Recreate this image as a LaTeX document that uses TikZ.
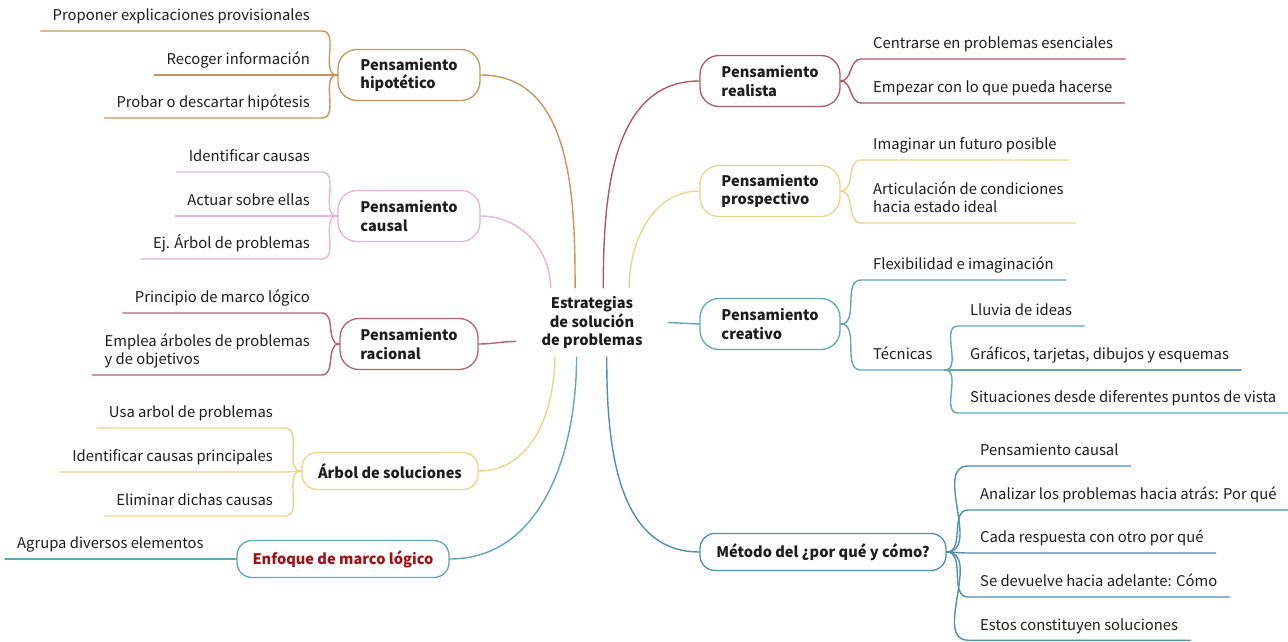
\documentclass[tikz,border=0pt]{standalone}
\usepackage{fontspec}
\setmainfont{Noto Sans CJK SC}
\definecolor{hipc}{RGB}{198,150,96}
\definecolor{causc}{RGB}{228,182,214}
\definecolor{racc}{RGB}{178,98,112}
\definecolor{arbc}{RGB}{233,213,140}
\definecolor{enfc}{RGB}{96,166,184}
\definecolor{realc}{RGB}{170,90,104}
\definecolor{prosc}{RGB}{233,214,142}
\definecolor{creac}{RGB}{98,166,184}
\definecolor{metc}{RGB}{80,144,170}
\definecolor{redtxt}{RGB}{160,16,22}
\definecolor{ink}{RGB}{28,28,28}
\newcommand\leaffont{\fontsize{14.8pt}{18.5pt}\selectfont}
\newcommand\topicfont{\fontsize{14.6pt}{18.5pt}\selectfont\bfseries}
\tikzset{
  wire/.style={line width=1.4pt, line cap=round},
  topic/.style={draw, fill=white, line width=1.3pt, rounded corners=19pt,
    minimum height=51pt, align=left, font=\topicfont, text=ink, inner sep=0pt},
  flat/.style={topic, rounded corners=15pt, minimum height=37pt},
  leaf/.style={font=\leaffont, text=ink, align=left, inner xsep=12pt,
    inner ysep=6pt, text depth=4pt},
  leafL/.style={leaf, anchor=south east},
  leafR/.style={leaf, anchor=south west},
}
\begin{document}
\begin{tikzpicture}[x=1pt,y=1pt]
\useasboundingbox (0,0) rectangle (1288,641);

% central topic
\node[align=center, font=\topicfont, text=ink, minimum width=152pt,
  minimum height=69pt, inner sep=0pt] (c) at (592,318.5)
  {Estrategias\\de solución\\de problemas};

% main branches
\node[topic, draw=hipc, minimum width=142pt] (hip) at (409,566) {Pensamiento\\hipotético};
\node[topic, draw=causc, minimum width=142pt] (cau) at (409,425) {Pensamiento\\causal};
\node[topic, draw=racc, minimum width=138pt] (rac) at (409,297) {Pensamiento\\racional};
\node[flat, draw=arbc, minimum width=176pt] (arb) at (390,170) {Árbol de soluciones};
\node[flat, draw=enfc, minimum width=212pt, text=redtxt] (enf) at (343,82) {Enfoque de marco lógico};
\node[topic, draw=realc, minimum width=140pt] (rea) at (770,560) {Pensamiento\\realista};
\node[topic, draw=prosc, minimum width=140pt] (pro) at (770,450) {Pensamiento\\prospectivo};
\node[topic, draw=creac, minimum width=140pt] (cre) at (770,317) {Pensamiento\\creativo};
\node[flat, draw=metc, minimum width=246pt] (met) at (823,89) {Método del ¿por qué y cómo?};

% centre to branches
\draw[wire, hipc]  (c.116)   to[out=90,in=0]    (hip.east);
\draw[wire, causc] (c.140.6) to[out=90,in=0]    (cau.east);
\draw[wire, racc]  (c.194.5) to[out=180,in=0]   (rac.east);
\draw[wire, arbc]  (c.223)   to[out=-90,in=0]   (arb.east);
\draw[wire, enfc]  (c.246.5) to[out=-90,in=0]   (enf.east);
\draw[wire, realc] (c.72.3)  to[out=90,in=180]  (rea.west);
\draw[wire, prosc] (c.43.8)  to[out=90,in=180]  (pro.west);
\draw[wire, creac] (c.east) -- (cre.west);
\draw[wire, metc]  (c.293.5) to[out=-90,in=180] (met.west);

% Pensamiento hipotetico
\node[leafL] (h1) at (322,610) {Proponer explicaciones provisionales};
\node[leafL] (h2) at (322,566) {Recoger información};
\node[leafL] (h3) at (322,523) {Probar o descartar hipótesis};
\foreach \n in {h1,h2,h3}
  \draw[wire, hipc] (\n.south west) -- (\n.south east) to[out=0,in=180] (hip.west);

% Pensamiento causal
\node[leafL] (k1) at (322,469) {Identificar causas};
\node[leafL] (k2) at (322,425) {Actuar sobre ellas};
\node[leafL] (k3) at (322,382) {Ej. Árbol de problemas};
\foreach \n in {k1,k2,k3}
  \draw[wire, causc] (\n.south west) -- (\n.south east) to[out=0,in=180] (cau.west);

% Pensamiento racional
\node[leafL] (r1) at (322,328) {Principio de marco lógico};
\node[leafL] (r2) at (322,266) {Emplea árboles de problemas\\y de objetivos};
\foreach \n in {r1,r2}
  \draw[wire, racc] (\n.south west) -- (\n.south east) to[out=0,in=180] (rac.west);

% Arbol de soluciones
\node[leafL] (a1) at (285,213) {Usa arbol de problemas};
\node[leafL] (a2) at (285,169) {Identificar causas principales};
\node[leafL] (a3) at (285,125) {Eliminar dichas causas};
\foreach \n in {a1,a2,a3}
  \draw[wire, arbc] (\n.south west) -- (\n.south east) to[out=0,in=180] (arb.west);

% Enfoque de marco logico
\node[leafR] (e1) at (5,82) {Agrupa diversos elementos};
\draw[wire, enfc] (e1.south west) -- (enf.west);

% Pensamiento realista
\node[leafR] (p1) at (861,582) {Centrarse en problemas esenciales};
\node[leafR] (p2) at (861,538) {Empezar con lo que pueda hacerse};
\foreach \n in {p1,p2}
  \draw[wire, realc] (rea.east) to[out=0,in=180] (\n.south west) -- (\n.south east);

% Pensamiento prospectivo
\node[leafR] (s1) at (861,481) {Imaginar un futuro posible};
\node[leafR] (s2) at (861,418) {Articulación de condiciones\\hacia estado ideal};
\foreach \n in {s1,s2}
  \draw[wire, prosc] (pro.east) to[out=0,in=180] (\n.south west) -- (\n.south east);

% Pensamiento creativo
\node[leafR] (f1) at (861,361) {Flexibilidad e imaginación};
\node[leafR] (tec) at (861,271) {Técnicas};
\foreach \n in {f1,tec}
  \draw[wire, creac] (cre.east) to[out=0,in=180] (\n.south west) -- (\n.south east);
\node[leafR] (t1) at (958,315) {Lluvia de ideas};
\node[leafR] (t2) at (958,271) {Gráficos, tarjetas, dibujos y esquemas};
\node[leafR] (t3) at (958,228) {Situaciones desde diferentes puntos de vista};
\foreach \n in {t1,t2,t3}
  \draw[wire, creac] (tec.south east) to[out=0,in=180] (\n.south west) -- (\n.south east);

% Metodo del por que y como
\node[leafR] (m1) at (968,175) {Pensamiento causal};
\node[leafR] (m2) at (968,131) {Analizar los problemas hacia atrás: Por qué};
\node[leafR] (m3) at (968,88) {Cada respuesta con otro por qué};
\node[leafR] (m4) at (968,44) {Se devuelve hacia adelante: Cómo};
\node[leafR] (m5) at (968,0.8) {Estos constituyen soluciones};
\foreach \n in {m1,m2,m3,m4,m5}
  \draw[wire, metc] (met.east) to[out=0,in=180] (\n.south west) -- (\n.south east);
\end{tikzpicture}
\end{document}
